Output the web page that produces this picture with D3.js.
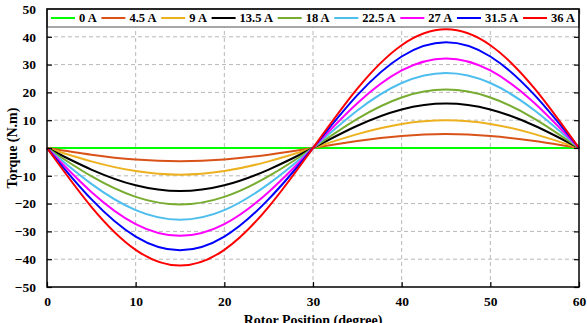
<!DOCTYPE html>
<html>
<head>
<meta charset="utf-8">
<script src="https://cdn.jsdelivr.net/npm/d3@7/dist/d3.min.js"></script>
<style>
  body { margin: 0; background: #fff; }
  svg { display: block; }
</style>
</head>
<body>
<div id="drawer"></div>
<script>
// rotor position samples (degree)
var positions = [0, 5, 10, 15, 20, 25, 30, 35, 40, 45, 50, 55, 60];

var seriesNames = ["0 A", "4.5 A", "9 A", "13.5 A", "18 A", "22.5 A", "27 A", "31.5 A", "36 A"];

// torque values (N.m)
var t0   = [0, 0, 0, 0, 0, 0, 0, 0, 0, 0, 0, 0, 0];
var t4_5 = [0, -2.4, -4.16, -4.8, -4.16, -2.4, 0, 2.5, 4.33, 5.0, 4.33, 2.5, 0];
var t9   = [0, -4.8, -8.31, -9.6, -8.31, -4.8, 0, 5.0, 8.66, 10.0, 8.66, 5.0, 0];
var t13_5 = [0, -7.75, -13.42, -15.5, -13.42, -7.75, 0, 8.0, 13.86, 16.0, 13.86, 8.0, 0];
var t18  = [0, -10.15, -17.58, -20.3, -17.58, -10.15, 0, 10.5, 18.19, 21.0, 18.19, 10.5, 0];
var t22_5 = [0, -12.9, -22.34, -25.8, -22.34, -12.9, 0, 13.5, 23.38, 27.0, 23.38, 13.5, 0];
var t27  = [0, -15.8, -27.37, -31.6, -27.37, -15.8, 0, 16.1, 27.89, 32.2, 27.89, 16.1, 0];
var t31_5 = [0, -18.4, -31.87, -36.8, -31.87, -18.4, 0, 19.0, 32.91, 38.0, 32.91, 19.0, 0];
var t36  = [0, -21.15, -36.63, -42.3, -36.63, -21.15, 0, 21.35, 36.98, 42.7, 36.98, 21.35, 0];

var xTicks = [0, 10, 20, 30, 40, 50, 60];
var yTicks = [-50, -40, -30, -20, -10, 0, 10, 20, 30, 40, 50];

var seriesValues = [t0, t4_5, t9, t13_5, t18, t22_5, t27, t31_5, t36];
var seriesColors = ["#00ff00", "#d95319", "#edb120", "#000000", "#77ac30",
                    "#4dbeee", "#ff00ff", "#0000ff", "#ff0000"];

var w = 587, h = 323;
var margin = {left: 47, right: 8, top: 9, bottom: 36};
var fontFamily = "'Times New Roman', 'Liberation Serif', serif";

var vis = d3.select("#drawer").append("svg")
    .attr("width", w)
    .attr("height", h);

var x = d3.scaleLinear().domain([0, 60]).range([margin.left, w - margin.right]);
var y = d3.scaleLinear().domain([-50, 50]).range([h - margin.bottom, margin.top]);

// dashed grid
vis.append("g").selectAll("line")
  .data(xTicks.slice(1, -1))
  .enter().append("line")
  .attr("x1", function(d) { return x(d); })
  .attr("x2", function(d) { return x(d); })
  .attr("y1", y(-50))
  .attr("y2", y(50))
  .style("stroke", "#b8b8b8")
  .style("stroke-width", 1)
  .style("stroke-dasharray", "4,3");

vis.append("g").selectAll("line")
  .data(yTicks.slice(1, -1))
  .enter().append("line")
  .attr("x1", x(0))
  .attr("x2", x(60))
  .attr("y1", function(d) { return y(d); })
  .attr("y2", function(d) { return y(d); })
  .style("stroke", "#b8b8b8")
  .style("stroke-width", 1)
  .style("stroke-dasharray", "4,3");

// curves
var line = d3.line()
  .x(function(d, i) { return x(positions[i]); })
  .y(function(d) { return y(d); })
  .curve(d3.curveNatural);

vis.append("g").selectAll("path")
  .data(seriesValues)
  .enter().append("path")
  .attr("d", function(d) { return line(d); })
  .style("fill", "none")
  .style("stroke", function(d, i) { return seriesColors[i]; })
  .style("stroke-width", 2);

// axes with inward ticks
function styleAxis(g) {
  g.select(".domain").remove();
  g.selectAll(".tick line").style("stroke", "#000").style("stroke-width", 1.2);
  g.selectAll("text")
    .style("font-family", fontFamily)
    .style("font-weight", "bold")
    .style("font-size", "13.5px")
    .style("fill", "#000");
}

vis.append("g")
  .attr("transform", "translate(0," + y(-50) + ")")
  .call(d3.axisBottom(x).tickValues(xTicks).tickSizeInner(-5).tickSizeOuter(0).tickPadding(9))
  .call(styleAxis);

vis.append("g")
  .attr("transform", "translate(0," + y(50) + ")")
  .call(d3.axisTop(x).tickValues(xTicks).tickSizeInner(-5).tickSizeOuter(0).tickFormat(""))
  .call(styleAxis);

vis.append("g")
  .attr("transform", "translate(" + x(0) + ",0)")
  .call(d3.axisLeft(y).tickValues(yTicks).tickSizeInner(-5).tickSizeOuter(0).tickPadding(11))
  .call(styleAxis);

vis.append("g")
  .attr("transform", "translate(" + x(60) + ",0)")
  .call(d3.axisRight(y).tickValues(yTicks).tickSizeInner(-5).tickSizeOuter(0).tickFormat(""))
  .call(styleAxis);

// legend across the top of the plot
var legendTop = y(50), legendH = 18;
vis.append("rect")
  .attr("x", x(0))
  .attr("y", legendTop)
  .attr("width", x(60) - x(0))
  .attr("height", legendH)
  .style("fill", "#fff")
  .style("stroke", "#8a8a8a")
  .style("stroke-width", 1.5);

var legend = vis.append("g");
var items = legend.selectAll("g")
  .data(seriesNames)
  .enter().append("g");

items.append("line")
  .attr("x1", 0).attr("x2", 24)
  .attr("y1", legendTop + legendH / 2)
  .attr("y2", legendTop + legendH / 2)
  .style("stroke", function(d, i) { return seriesColors[i]; })
  .style("stroke-width", 2);

items.append("text")
  .text(function(d) { return d; })
  .attr("x", 28)
  .attr("y", legendTop + legendH / 2 + 4)
  .style("font-family", fontFamily)
  .style("font-weight", "bold")
  .style("font-size", "12.5px");

var widths = [];
items.select("text").each(function() { widths.push(this.getComputedTextLength()); });
var startX = x(0) + 4, endX = x(60) - 4;
var used = d3.sum(widths) + seriesNames.length * 28;
var gap = (endX - startX - used) / (seriesNames.length - 1);
var cx = startX;
items.attr("transform", function(d, i) {
  var t = "translate(" + cx + ",0)";
  cx += 28 + widths[i] + gap;
  return t;
});

// outer frame
vis.append("rect")
  .attr("x", x(0))
  .attr("y", y(50))
  .attr("width", x(60) - x(0))
  .attr("height", y(-50) - y(50))
  .style("fill", "none")
  .style("stroke", "#000")
  .style("stroke-width", 1.5);

// axis titles
vis.append("text")
  .text("Torque (N.m)")
  .attr("transform", "translate(17," + y(0) + ") rotate(-90)")
  .attr("text-anchor", "middle")
  .style("font-family", fontFamily)
  .style("font-weight", "bold")
  .style("font-size", "14px");

vis.append("text")
  .text("Rotor Position (degree)")
  .attr("x", (x(0) + x(60)) / 2)
  .attr("y", 325)
  .attr("text-anchor", "middle")
  .style("font-family", fontFamily)
  .style("font-weight", "bold")
  .style("font-size", "14px");
</script>
</body>
</html>
